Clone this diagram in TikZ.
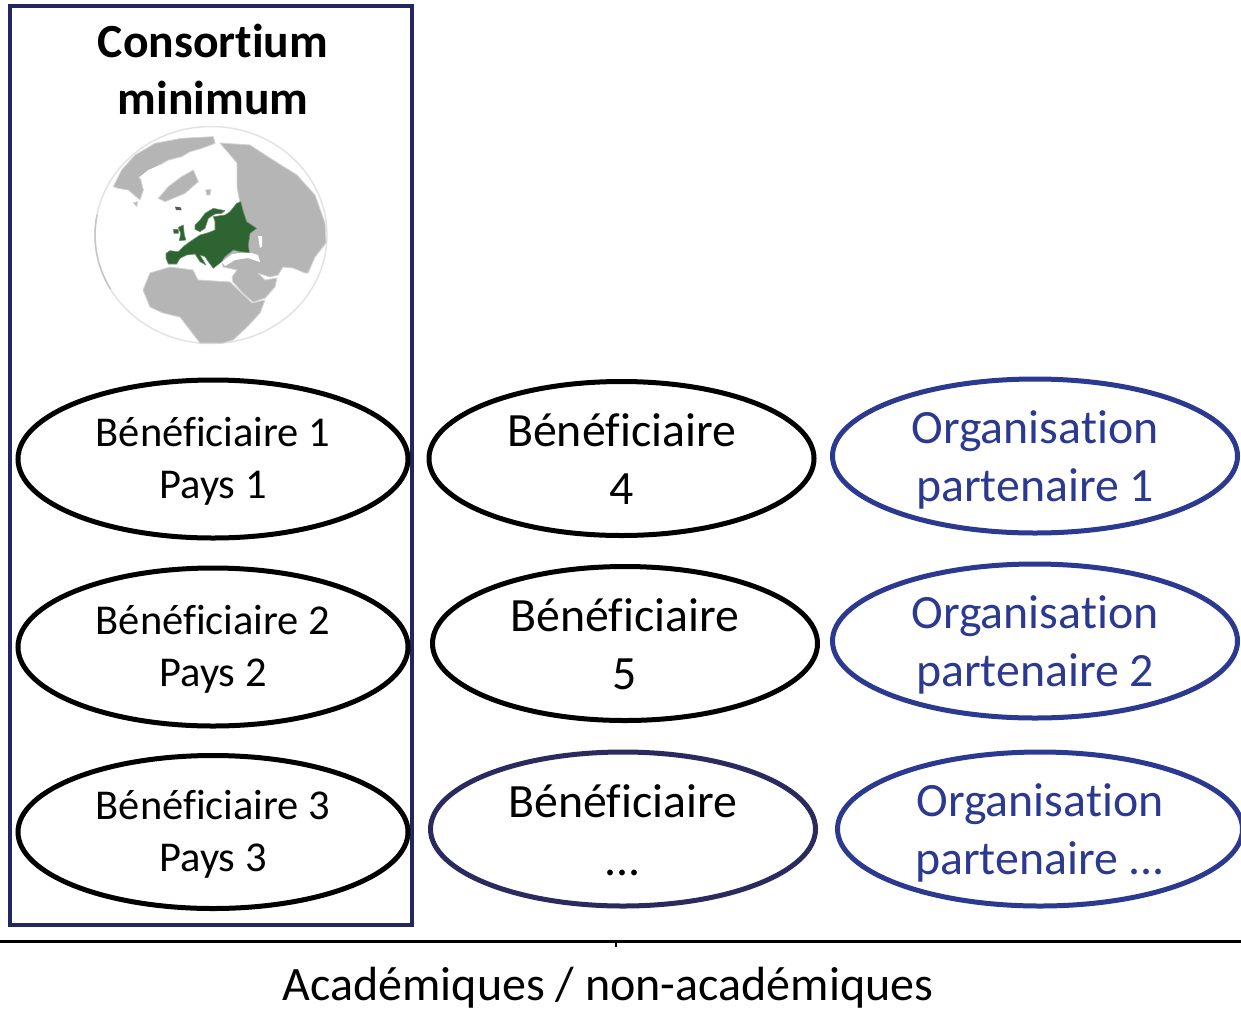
\documentclass[tikz,border=0pt]{standalone}
\usepackage{fontspec}
\setmainfont{Carlito}[RawFeature={-liga;-clig;-dlig}]
\usetikzlibrary{shapes.geometric}
\definecolor{navyframe}{HTML}{22285F}
\definecolor{darknavy}{HTML}{2A2A5E}
\definecolor{partner}{HTML}{2B3990}
\definecolor{landgrey}{HTML}{B5B5B5}
\definecolor{eugreen}{HTML}{2D6432}
\newcommand{\smalltxt}{\fontsize{42.5}{52}\selectfont}
\newcommand{\bigtxt}{\fontsize{47.8}{58}\selectfont}
\newcommand{\lowered}[2]{\raisebox{-#1}[\height][\depth]{#2}}
\tikzset{
  x=1pt,y=-1pt,
  oval/.style={ellipse,draw,line width=5pt,inner sep=0pt,align=center,fill=white},
  ben/.style={oval,minimum width=390pt,minimum height=158pt,font=\smalltxt},
  benb/.style={oval,minimum width=385pt,minimum height=154pt,font=\bigtxt},
  org/.style={oval,draw=partner,text=partner,minimum width=405pt,minimum height=154pt,font=\bigtxt},
  land/.style={fill=landgrey,draw=landgrey!60,line width=0.8pt,line join=round},
  eu/.style={fill=eugreen,draw=eugreen!70,line width=0.6pt,line join=round},
  sea/.style={fill=white,draw=none}
}
\begin{document}
\begin{tikzpicture}
\useasboundingbox (0,0) rectangle (1241,1010);
\fill[white] (0,0) rectangle (1241,1010);
\node[draw=navyframe,line width=4pt,minimum width=402pt,minimum height=919pt,inner sep=0pt] (frame) at (211,465.5) {};
\node[align=center,font=\fontsize{47.6}{57}\selectfont\bfseries] (title) at (213,69) {Consortium\\minimum};
% globe: rim
\draw[gray!22,line width=1.5pt] (211,235) ellipse [x radius=116,y radius=108.5];
\draw[gray!45,line width=1.5pt] (97,215) arc [start angle=190.6,end angle=150,x radius=116,y radius=108.5];
% north America and Greenland
\begin{scope}[shift={(85,120)},scale=1/3]
\fill[land] (85,200) -- (110,150) -- (150,105) -- (210,70) -- (290,55) -- (385,50) -- (390,70) -- (350,85) -- (315,95) -- (290,110) -- (250,120) -- (215,140) -- (165,170) -- (175,210) -- (165,240) -- (130,210) -- (100,205) -- cycle;
\fill[sea] (160,175) -- (190,150) -- (225,135) -- (250,160) -- (215,170) -- cycle;
\fill[sea] (250,135) -- (290,115) -- (300,125) -- (265,145) -- cycle;
\fill[land] (220,235) -- (250,200) -- (290,170) -- (325,150) -- (340,185) -- (300,220) -- (240,245) -- cycle;
\fill[land] (145,248) -- (158,245) -- (155,260) -- cycle;
\fill[land] (362,210) -- (378,208) -- (375,225) -- (365,225) -- cycle;
\end{scope}
% Asia with Arabia
\fill[land] (220,143) -- (250,145) -- (273,160) -- (297,175) -- (315,195) -- (325,223) -- (326,243) -- (315,257) -- (308,273) -- (305,273) -- (293,268) -- (283,267) -- (278,275) -- (270,277) -- (258,273) -- (265,280) -- (277,278) -- (275,287) -- (265,298) -- (253,302) -- (243,293) -- (233,282) -- (232,277) -- (237,270) -- (223,267) -- (222,262) -- (235,240) -- (240,203) -- (237,187) -- (237,163) -- cycle;
% Africa
\fill[land] (143,290) -- (150,273) -- (170,267) -- (193,270) -- (198,280) -- (230,282) -- (252,303) -- (265,300) -- (260,313) -- (247,327) -- (233,340) -- (223,343) -- (200,343) -- (190,330) -- (180,317) -- (163,313) -- (150,307) -- cycle;
% Black Sea and Caspian
\fill[sea] (222,262) -- (232,254) -- (248,252) -- (258,255) -- (260,262) -- (248,258) -- (235,260) -- (225,266) -- cycle;
\fill[sea] (258,236) -- (262,236) -- (262,246) -- (260,248) -- cycle;
% Europe
\begin{scope}[shift={(150,190)},scale=1/3]
\fill[eu] (48,190) -- (60,182) -- (85,185) -- (100,170) -- (120,155) -- (150,135) -- (175,128) -- (195,120) -- (195,95) -- (190,80) -- (225,75) -- (240,65) -- (260,40) -- (272,35) -- (280,65) -- (290,95) -- (320,115) -- (300,130) -- (295,165) -- (298,188) -- (270,185) -- (250,180) -- (225,200) -- (215,215) -- (190,235) -- (175,215) -- (165,200) -- (150,195) -- (168,225) -- (150,215) -- (135,192) -- (110,195) -- (90,205) -- (80,222) -- (55,222) -- (48,205) -- cycle;
\fill[eu] (135,105) -- (150,90) -- (165,70) -- (190,55) -- (225,62) -- (215,70) -- (195,72) -- (175,85) -- (165,115) -- (150,125) -- (135,118) -- cycle;
\fill[eu] (85,112) -- (100,105) -- (103,135) -- (108,150) -- (88,152) -- (92,130) -- cycle;
\fill[eu] (70,118) -- (85,118) -- (85,130) -- (72,130) -- cycle;
\fill[gray!70!black] (75,50) -- (92,52) -- (95,60) -- (78,60) -- cycle;
\end{scope}
% left column
\node[ben] (b1) at (213,459) {\lowered{2.5pt}{Bénéficiaire 1}\\\lowered{2.5pt}{Pays 1}};
\node[ben] (b2) at (213,647) {\lowered{2.5pt}{Bénéficiaire 2}\\\lowered{2.5pt}{Pays 2}};
\node[ben,minimum height=153pt] (b3) at (213,832) {\lowered{2.5pt}{Bénéficiaire 3}\\\lowered{2.5pt}{Pays 3}};
% middle column
\node[benb] (b4) at (621.5,458.5) {\lowered{1pt}{Bénéficiaire}\\\lowered{1pt}{4}};
\node[benb] (b5) at (625,643.5) {\lowered{1pt}{Bénéficiaire}\\\lowered{1pt}{5}};
\node[benb,draw=darknavy] (bn) at (623,829) {\lowered{1pt}{Bénéficiaire}\\\lowered{1pt}{...}};
% right column
\node[org] (o1) at (1035,456) {\lowered{4pt}{Organisation}\\\lowered{4pt}{partenaire 1}};
\node[org] (o2) at (1035,641) {\lowered{4pt}{Organisation}\\\lowered{4pt}{partenaire 2}};
\node[org] (on) at (1040,829) {\lowered{4pt}{Organisation}\\\lowered{4pt}{partenaire ...}};
% axis
\coordinate (axl) at (0,941);
\coordinate (axr) at (1241,941);
\coordinate (tka) at (616,941);
\coordinate (tkb) at (616,947);
\draw[line width=3pt] (axl) -- (axr);
\draw[line width=2pt] (tka) -- (tkb);
\node[anchor=base,inner sep=0pt,font=\fontsize{48}{57}\selectfont] (axis) at (608,1000) {Académiques / non-académiques};
\end{tikzpicture}
\end{document}
